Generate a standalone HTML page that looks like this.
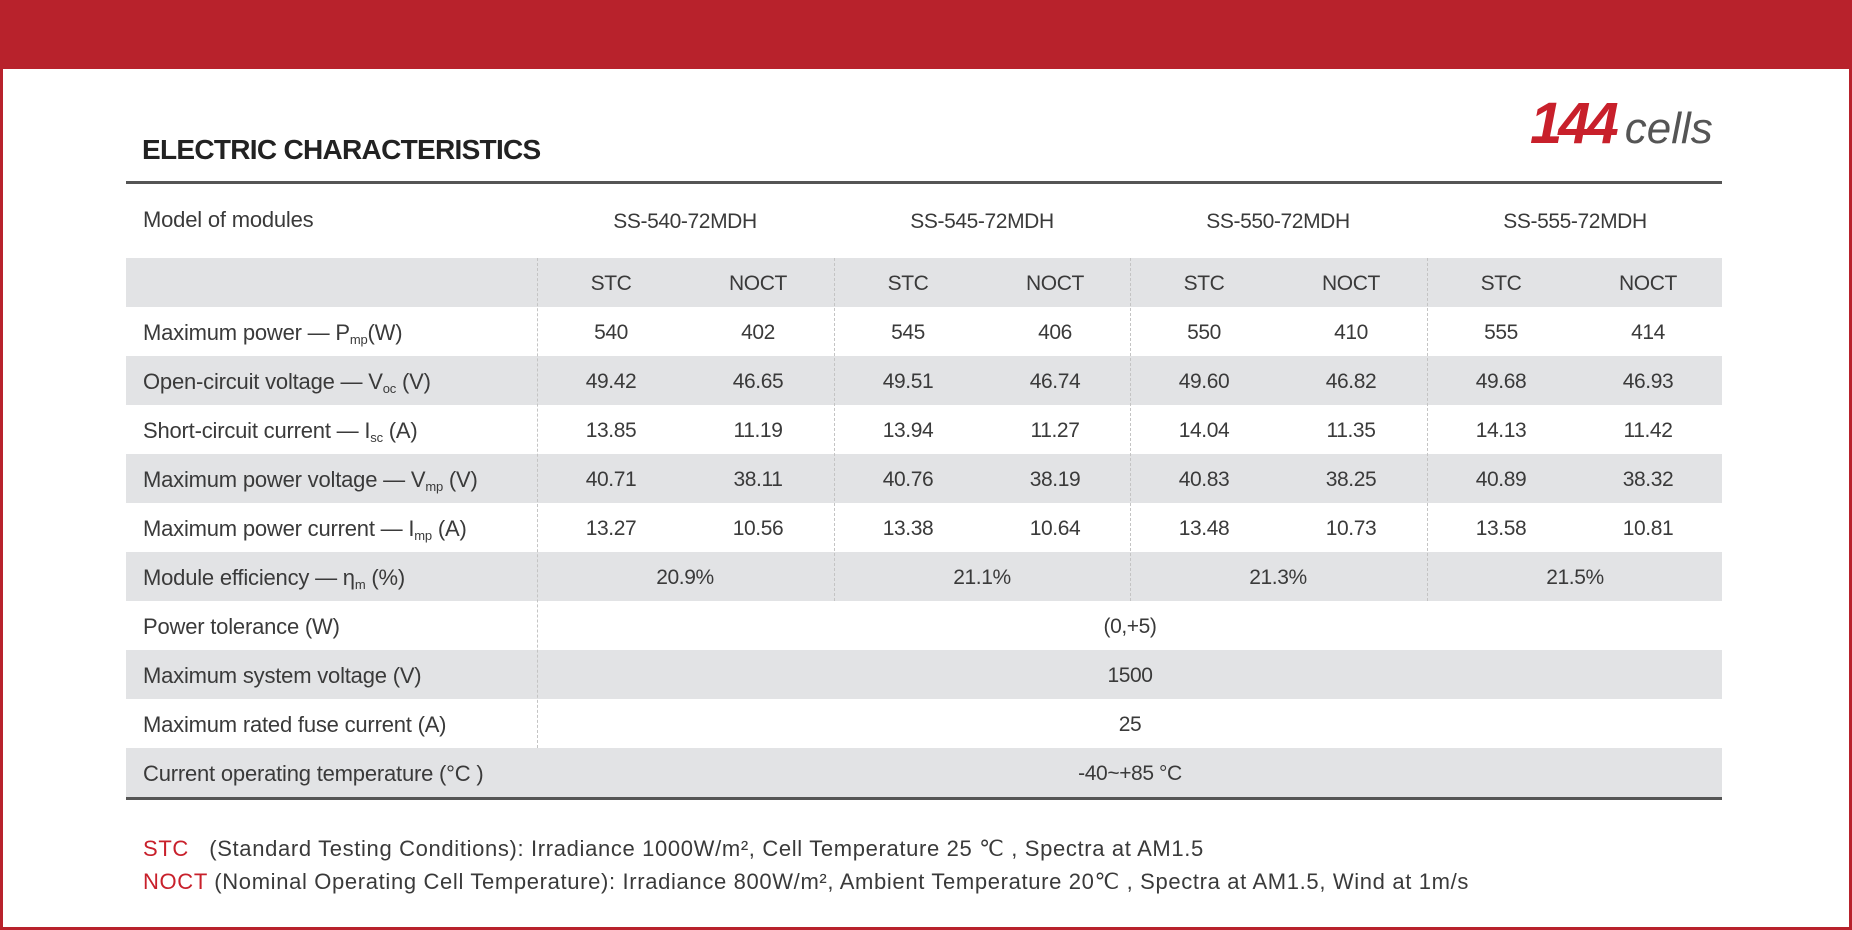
<!DOCTYPE html>
<html><head><meta charset="utf-8"><style>
*{margin:0;padding:0;box-sizing:border-box}
body{width:1852px;height:930px;background:#fff;position:relative;overflow:hidden;font-family:"Liberation Sans",sans-serif;color:#3a3a3a}
.band{position:absolute;left:0;top:0;width:1852px;height:69px;background:#b8222c}
.frame{position:absolute;left:0;top:0;width:1852px;height:930px;border:3px solid #b8222c;border-top:none}
.title{position:absolute;left:142px;top:134px;font-size:28px;font-weight:bold;color:#222;letter-spacing:-0.7px}
.cells{position:absolute;left:1530px;top:90px;white-space:nowrap}
.cells b{font-size:58px;font-style:italic;color:#c8202b;letter-spacing:-4px}
.cells i{font-size:44px;color:#555;margin-left:10px}
.rule{position:absolute;left:126px;width:1596px;height:3px;background:#555}
.row{position:absolute;left:126px;width:1596px;height:49px}
.g{background:#e2e3e5}
.t{position:absolute;font-size:21px;letter-spacing:-0.4px;white-space:nowrap;transform:translateX(-50%);line-height:24px}
.l{position:absolute;left:143px;font-size:22px;letter-spacing:-0.2px;white-space:nowrap;line-height:24px}
sub{font-size:13px;vertical-align:-4px}
.v{position:absolute;width:0;border-left:1px dashed #c4c4c4}
.fn{position:absolute;left:143px;font-size:22px;letter-spacing:0.65px;white-space:nowrap}
.fn span{color:#c8202b}
</style></head><body>
<div class="band"></div>
<div class="frame"></div>
<div class="title">ELECTRIC CHARACTERISTICS</div>
<div class="cells"><b>144</b><i>cells</i></div>
<div class="rule" style="top:181px"></div>

<div class="row g" style="top:258px"></div>
<div class="row g" style="top:356px"></div>
<div class="row g" style="top:454px"></div>
<div class="row g" style="top:552px"></div>
<div class="row g" style="top:650px"></div>
<div class="row g" style="top:748px"></div>
<div class="rule" style="top:797px"></div>

<div class="v" style="left:537px;top:258px;height:490px"></div>
<div class="v" style="left:834px;top:258px;height:343px"></div>
<div class="v" style="left:1130px;top:258px;height:343px"></div>
<div class="v" style="left:1427px;top:258px;height:343px"></div>

<div class="l" style="top:208px">Model of modules</div>
<div class="t" style="left:685px;top:210px">SS-540-72MDH</div>
<div class="t" style="left:982px;top:210px">SS-545-72MDH</div>
<div class="t" style="left:1278px;top:210px">SS-550-72MDH</div>
<div class="t" style="left:1575px;top:210px">SS-555-72MDH</div>

<div class="t" style="left:611px;top:272px">STC</div><div class="t" style="left:758px;top:272px">NOCT</div>
<div class="t" style="left:908px;top:272px">STC</div><div class="t" style="left:1055px;top:272px">NOCT</div>
<div class="t" style="left:1204px;top:272px">STC</div><div class="t" style="left:1351px;top:272px">NOCT</div>
<div class="t" style="left:1501px;top:272px">STC</div><div class="t" style="left:1648px;top:272px">NOCT</div>

<div class="l" style="top:321px">Maximum power — P<sub>mp</sub>(W)</div>
<div class="t" style="left:611px;top:321px">540</div><div class="t" style="left:758px;top:321px">402</div>
<div class="t" style="left:908px;top:321px">545</div><div class="t" style="left:1055px;top:321px">406</div>
<div class="t" style="left:1204px;top:321px">550</div><div class="t" style="left:1351px;top:321px">410</div>
<div class="t" style="left:1501px;top:321px">555</div><div class="t" style="left:1648px;top:321px">414</div>

<div class="l" style="top:370px">Open-circuit voltage — V<sub>oc</sub> (V)</div>
<div class="t" style="left:611px;top:370px">49.42</div><div class="t" style="left:758px;top:370px">46.65</div>
<div class="t" style="left:908px;top:370px">49.51</div><div class="t" style="left:1055px;top:370px">46.74</div>
<div class="t" style="left:1204px;top:370px">49.60</div><div class="t" style="left:1351px;top:370px">46.82</div>
<div class="t" style="left:1501px;top:370px">49.68</div><div class="t" style="left:1648px;top:370px">46.93</div>

<div class="l" style="top:419px">Short-circuit current — I<sub>sc</sub> (A)</div>
<div class="t" style="left:611px;top:419px">13.85</div><div class="t" style="left:758px;top:419px">11.19</div>
<div class="t" style="left:908px;top:419px">13.94</div><div class="t" style="left:1055px;top:419px">11.27</div>
<div class="t" style="left:1204px;top:419px">14.04</div><div class="t" style="left:1351px;top:419px">11.35</div>
<div class="t" style="left:1501px;top:419px">14.13</div><div class="t" style="left:1648px;top:419px">11.42</div>

<div class="l" style="top:468px">Maximum power voltage — V<sub>mp</sub> (V)</div>
<div class="t" style="left:611px;top:468px">40.71</div><div class="t" style="left:758px;top:468px">38.11</div>
<div class="t" style="left:908px;top:468px">40.76</div><div class="t" style="left:1055px;top:468px">38.19</div>
<div class="t" style="left:1204px;top:468px">40.83</div><div class="t" style="left:1351px;top:468px">38.25</div>
<div class="t" style="left:1501px;top:468px">40.89</div><div class="t" style="left:1648px;top:468px">38.32</div>

<div class="l" style="top:517px">Maximum power current — I<sub>mp</sub> (A)</div>
<div class="t" style="left:611px;top:517px">13.27</div><div class="t" style="left:758px;top:517px">10.56</div>
<div class="t" style="left:908px;top:517px">13.38</div><div class="t" style="left:1055px;top:517px">10.64</div>
<div class="t" style="left:1204px;top:517px">13.48</div><div class="t" style="left:1351px;top:517px">10.73</div>
<div class="t" style="left:1501px;top:517px">13.58</div><div class="t" style="left:1648px;top:517px">10.81</div>

<div class="l" style="top:566px">Module efficiency — η<sub>m</sub> (%)</div>
<div class="t" style="left:685px;top:566px">20.9%</div>
<div class="t" style="left:982px;top:566px">21.1%</div>
<div class="t" style="left:1278px;top:566px">21.3%</div>
<div class="t" style="left:1575px;top:566px">21.5%</div>

<div class="l" style="top:615px">Power tolerance (W)</div>
<div class="t" style="left:1130px;top:615px">(0,+5)</div>
<div class="l" style="top:664px">Maximum system voltage (V)</div>
<div class="t" style="left:1130px;top:664px">1500</div>
<div class="l" style="top:713px">Maximum rated fuse current (A)</div>
<div class="t" style="left:1130px;top:713px">25</div>
<div class="l" style="top:762px">Current operating temperature (°C )</div>
<div class="t" style="left:1130px;top:762px">-40~+85 °C</div>

<div class="fn" style="top:836px"><span>STC</span>&nbsp;&nbsp;&nbsp;(Standard Testing Conditions): Irradiance 1000W/m², Cell Temperature 25 ℃ , Spectra at AM1.5</div>
<div class="fn" style="top:869px"><span>NOCT</span> (Nominal Operating Cell Temperature): Irradiance 800W/m², Ambient Temperature 20℃ , Spectra at AM1.5, Wind at 1m/s</div>
</body></html>
